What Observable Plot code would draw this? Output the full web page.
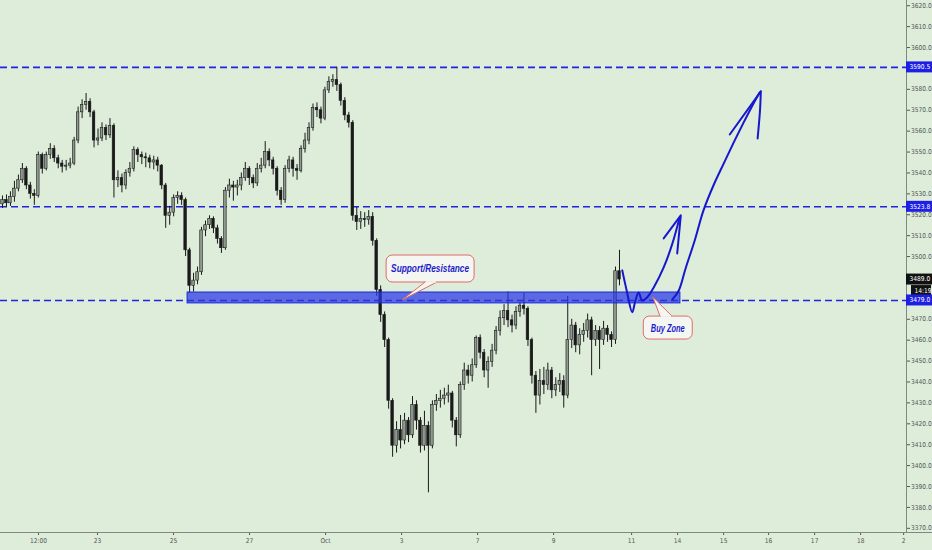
<!DOCTYPE html>
<html><head><meta charset="utf-8">
<script src="https://cdn.jsdelivr.net/npm/d3@7"></script>
<script src="https://cdn.jsdelivr.net/npm/@observablehq/plot@0.6"></script>
<style>
html,body{margin:0;padding:0;background:#ddedda;}
#chart svg{display:block;}
</style></head><body><div id="chart"></div>
<script>
// ---- candle data (open of each candle = previous close) ----
const firstOpen = 3525;
const closes = [
3527,3525.5,3528.5,3532.5,3536.5,3542,3534,3530,3529,3548.5,
3542,3548.5,3551.5,3547,3544.5,3543,3543.5,3544.5,3555.5,3569,
3572.5,3574,3569,3555.5,3556.5,3561.5,3558,3562.5,3536.5,3537.5,
3534,3540,3542,3551,3548.5,3547.5,3547,3545,3546,3543.5,
3534,3519.5,3521,3528,3529,3527,3503,3486,3488.5,3492.5,
3512.5,3515,3518,3513.5,3508.5,3504,3531.5,3534,3533,3534,
3537.5,3542,3537.5,3535,3542,3543.5,3550,3546,3542,3531.5,
3527,3542,3546,3542,3541,3551.5,3555.5,3561.5,3571,3570,
3566,3579.5,3583.5,3584.5,3582,3574.5,3567.5,3564,3519.5,3516.5,
3518,3517.5,3519,3507.5,3484,3472,3460,3431,3409.5,3417,
3412,3421.5,3414.5,3429,3421.5,3409.5,3419,3409.5,3429,3431,
3432,3433.5,3434.5,3421.5,3414.5,3438.5,3445.5,3443,3448,3461,
3454,3445.5,3449.5,3455,3464.5,3470.5,3474,3469.5,3467,3473.5,
3476.5,3475,3460,3443,3433.5,3440.5,3438.5,3445.5,3436,3438.5,
3440.5,3433.5,3460,3467,3457.5,3462.5,3464.5,3469.5,3460,3464.5,
3460,3465.5,3462.5,3460,3493,3489];
const highs = [
3529,3529.5,3531,3536,3539,3544.5,3543,3535.5,3532,3550,
3549.5,3550,3554,3553,3548.5,3546,3546,3547,3557,3571.5,
3575,3578,3575.5,3570,3561,3564,3563,3566,3563.5,3541,
3539.5,3541.5,3545,3552.5,3552,3550,3549.5,3548.5,3548,3547.5,
3544,3535,3524,3529.5,3531,3530.5,3528,3504,3492,3495,
3514,3517,3519.5,3519,3515,3509.5,3533,3537,3536,3536.5,
3540,3545,3543,3539,3544.5,3547,3555,3551.5,3547.5,3543,
3533,3543.5,3548,3547.5,3544,3553,3559,3564,3573,3573.5,
3571.5,3581,3586,3587,3590.5,3583,3576,3569,3565,3523.5,
3521.5,3521,3522,3521,3508.5,3486,3473.5,3461,3432,3421,
3424,3425,3423,3433,3431,3423,3426,3421,3431,3434,
3436,3437,3438.5,3435.5,3423,3440,3449,3448,3451,3462,
3462.5,3455.5,3452,3458,3466.5,3474,3477,3483,3472,3476,
3478,3482.5,3476,3461,3445,3446,3447,3449,3447,3442,
3444,3443,3481,3470,3468.5,3465.5,3468,3472.5,3471,3467,
3466.5,3469,3467,3464,3495,3503];
const lows = [
3523,3523.5,3524,3526,3531,3535,3532,3527.5,3524.5,3528,
3539.5,3541,3546.5,3545,3542,3540,3541,3542,3543.5,3554,
3566,3570,3566.5,3552,3553,3555,3555.5,3556.5,3528,3533,
3530.5,3532,3538,3540.5,3545,3544,3542.5,3542,3541.5,3540.5,
3532,3513.5,3515,3519,3525,3524.5,3500,3482.5,3483,3486.5,
3491,3509.5,3513,3511,3506,3501.5,3503,3528,3526.5,3529,
3531.5,3536,3534,3532.5,3533.5,3540,3542,3543,3539,3529,
3524.5,3525.5,3540,3538,3536.5,3540,3549.5,3553.5,3560,3566.5,
3563.5,3565,3578,3581,3579,3572,3565,3561.5,3517,3512.5,
3513,3514,3515,3505,3481,3468.5,3456.5,3427,3404,3406,
3408,3410,3411,3413,3417,3406,3407,3387,3408,3426,
3427.5,3429,3430,3418,3409,3413,3436,3439,3440,3446.5,
3451,3442,3437,3447,3453,3462,3467,3466,3463.5,3465,
3471,3472,3457,3439,3425,3429,3434,3436,3432,3433,
3435,3427.5,3432,3456,3454,3453,3459,3461,3443,3457,
3446,3457.5,3459,3456.5,3458,3486];

// ---- levels and labels ----
const levels = [3590.5, 3523.8, 3479.0];
const levelLabels = ["3590.5", "3523.8", "3479.0"];
const lastPrice = 3489.0;
const lastPriceLabel = "3489.0";
const countdownLabel = "14:19";

// ---- x axis (candle-index units) ----
const tickPos = [9.05, 23.87, 42.96, 62.06, 81.16, 100.25, 119.35, 138.44, 158.04, 169.6, 181.16, 192.46, 204.02, 215.58, 226.38];
const tickLabels = ["12:00", "23", "25", "27", "Oct", "3", "7", "9", "11", "14", "15", "16", "17", "18", "2"];
const xDomain = [-0.5, 227.1];
const yDomain = [3368, 3622.5];
const yTicks = d3.range(3370, 3621, 10);

// ---- annotations ----
const zoneX = [46.5, 170.3];
const zoneY = [3477.6, 3482.8];

const shortArrowX = [155.7, 156.8, 158.2, 159.0, 159.8, 160.7, 162.0, 163.6, 166.1, 168.3, 170.1];
const shortArrowY = [3493.4, 3483.8, 3473.4, 3479, 3482.8, 3479, 3480.6, 3485.2, 3494.8, 3506.3, 3518.7];
const shortHeadX = [166.1, 170.4, 169.5];
const shortHeadY = [3508.7, 3519.7, 3501.5];

const longArrowX = [168.3, 169.9, 171.6, 173.9, 176.1, 178.6, 181.2, 183.7, 186.2, 188.4, 190.2];
const longArrowY = [3479.5, 3483.8, 3494.3, 3507.7, 3522.1, 3534, 3544.6, 3554.6, 3564.2, 3572.3, 3578.5];
const longHeadLX = [182.7, 190.5];
const longHeadLY = [3558.4, 3579];
const longHeadRX = [190.5, 190.3, 189.7];
const longHeadRY = [3579, 3570, 3556.5];

const calloutText = ["Support/Resistance", "Buy Zone"];
const calloutX1 = [96.5, 161.1], calloutX2 = [118.6, 173.4];
const calloutY1 = [3487.6, 3460.3], calloutY2 = [3500.5, 3471.3];
const tailTipX = [100.5, 163.5], tailTipY = [3479, 3480.4];
const tailBaseX1 = [106.3, 165.3], tailBaseX2 = [109.3, 168.3];

// ---- build candles ----
const candles = closes.map((c, i) => {
  const o = i === 0 ? firstOpen : closes[i - 1];
  return {i, o, c, h: highs[i], l: lows[i], up: c >= o};
});

const BG = "#ddedda";
const BLUE = "#2323e0";
const INK = "#1a1a1a";
const ARROW = "#1717cf";
const AXFONT = "'DejaVu Sans Condensed','Liberation Sans Narrow','Liberation Sans',sans-serif";

const plot = Plot.plot({
  width: 932, height: 550,
  marginTop: 0, marginRight: 26, marginBottom: 18, marginLeft: 0,
  style: {background: BG, fontSize: "6.6px", color: "#555", fontFamily: AXFONT},
  x: {type: "linear", domain: xDomain, ticks: tickPos, tickFormat: d => tickLabels[tickPos.indexOf(d)], tickSize: 3, tickPadding: 3, label: null},
  y: {domain: yDomain, ticks: yTicks, tickFormat: d => d.toFixed(1), axis: "right", tickSize: 3, tickPadding: 1.5, label: null},
  marks: [
    Plot.ruleY(levels, {stroke: BLUE, strokeWidth: 1.6, strokeDasharray: "7,4"}),
    Plot.ruleX(candles, {x: "i", y1: "l", y2: "h", stroke: INK, strokeWidth: 1}),
    Plot.rect(candles, {x1: d => d.i - 0.32, x2: d => d.i + 0.32, y1: d => Math.min(d.o, d.c), y2: d => Math.max(d.o, d.c),
      fill: d => d.up ? "#8f9a8f" : INK, stroke: INK, strokeWidth: 0.6}),
    Plot.rect([0], {x1: zoneX[0], x2: zoneX[1], y1: zoneY[0], y2: zoneY[1], fill: "#2838e6", fillOpacity: 0.72, stroke: "#1a26d6", strokeWidth: 1}),
    Plot.line(d3.zip(shortArrowX, shortArrowY), {x: d => d[0], y: d => d[1], curve: "catmull-rom", stroke: ARROW, strokeWidth: 2, strokeLinecap: "round"}),
    Plot.line(d3.zip(shortHeadX, shortHeadY), {x: d => d[0], y: d => d[1], stroke: ARROW, strokeWidth: 2, strokeLinecap: "round", strokeLinejoin: "round"}),
    Plot.line(d3.zip(longArrowX, longArrowY), {x: d => d[0], y: d => d[1], curve: "catmull-rom", stroke: ARROW, strokeWidth: 2, strokeLinecap: "round"}),
    Plot.line(d3.zip(longHeadLX, longHeadLY), {x: d => d[0], y: d => d[1], stroke: ARROW, strokeWidth: 2, strokeLinecap: "round"}),
    Plot.line(d3.zip(longHeadRX, longHeadRY), {x: d => d[0], y: d => d[1], curve: "catmull-rom", stroke: ARROW, strokeWidth: 2, strokeLinecap: "round"}),
    Plot.ruleX([xDomain[1]], {stroke: "#7f8a7f", strokeWidth: 1}),
    Plot.ruleY([yDomain[0]], {stroke: "#7f8a7f", strokeWidth: 1, insetRight: -26})
  ]
});

const xs = plot.scale("x"), ys = plot.scale("y");
const svg = d3.select(plot);

// callouts
const cg = svg.append("g");
const calloutTextWidth = [78, 34];
calloutText.forEach((t, k) => {
  const x1 = xs.apply(calloutX1[k]), x2 = xs.apply(calloutX2[k]);
  const yTop = ys.apply(calloutY2[k]), yBot = ys.apply(calloutY1[k]);
  const tipX = xs.apply(tailTipX[k]), tipY = ys.apply(tailTipY[k]);
  const bx1 = xs.apply(tailBaseX1[k]), bx2 = xs.apply(tailBaseX2[k]);
  const baseY = tipY > yBot ? yBot : yTop;
  cg.append("rect").attr("x", x1).attr("y", yTop).attr("width", x2 - x1).attr("height", yBot - yTop)
    .attr("rx", 6).attr("fill", "#f4f6f1").attr("stroke", "#e06a6a").attr("stroke-width", 1);
  cg.append("path").attr("d", `M${bx1},${baseY}L${tipX},${tipY}L${bx2},${baseY}`)
    .attr("fill", "#f4f6f1").attr("stroke", "#e06a6a").attr("stroke-width", 1);
  cg.append("line").attr("x1", bx1 + 0.8).attr("x2", bx2 - 0.8).attr("y1", baseY).attr("y2", baseY)
    .attr("stroke", "#f4f6f1").attr("stroke-width", 1.6);
  cg.append("text").attr("x", (x1 + x2) / 2).attr("y", (yTop + yBot) / 2).attr("dy", "0.36em")
    .attr("text-anchor", "middle").attr("fill", "#1c1ccc")
    .attr("textLength", calloutTextWidth[k]).attr("lengthAdjust", "spacingAndGlyphs")
    .style("font", "italic bold 11px 'Liberation Sans',sans-serif")
    .text(t);
});

// right-axis price tags
const rx = xs.apply(xDomain[1]);
const tg = svg.append("g").attr("text-anchor", "start").style("font-size", "6.6px").style("font-family", AXFONT);
function tag(v, label, fill, x0, w, dyOff) {
  const y = ys.apply(v) + (dyOff || 0);
  tg.append("rect").attr("x", x0).attr("y", y - 5.5).attr("width", w).attr("height", 11).attr("fill", fill);
  tg.append("text").attr("x", x0 + 3.5).attr("y", y).attr("dy", "0.35em").attr("fill", "#fff").attr("text-anchor", "start").text(label);
}
tag(lastPrice, lastPriceLabel, "#111", rx, 26);
tag(lastPrice, countdownLabel, "#111", rx + 5, 20, 11.5);
levels.forEach((v, k) => tag(v, levelLabels[k], "#1f1fe3", rx, 26));

document.getElementById("chart").appendChild(plot);
</script></body></html>
